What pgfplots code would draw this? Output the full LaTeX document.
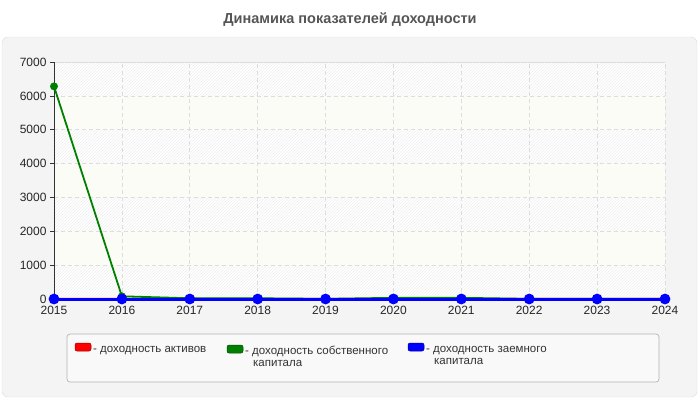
\documentclass[border=0pt]{standalone}
\usepackage{pgfplots}
\pgfplotsset{compat=1.18}
\usepackage{fontspec}
\setmainfont{Liberation Sans}
\usetikzlibrary{patterns}
\definecolor{panel}{HTML}{F4F4F4}
\definecolor{panelline}{HTML}{DDDDDD}
\definecolor{legfill}{HTML}{F9F9F9}
\definecolor{legline}{HTML}{B4B4B4}
\definecolor{band}{HTML}{FCFCF6}
\definecolor{hatch}{HTML}{F0F0F0}
\definecolor{titlec}{HTML}{555555}
\definecolor{serred}{HTML}{FF0000}
\definecolor{sergreen}{HTML}{008000}
\definecolor{serblue}{HTML}{0000FF}

\begin{document}
\begin{tikzpicture}[x=1pt,y=1pt]
\path (0,0) rectangle (700,-400);
\fill[panel,draw=panelline,rounded corners=6pt] (2,-37) rectangle (697,-397);
\node[text=titlec,font=\fontsize{14.5}{16}\selectfont\bfseries] at (350,-20) {Динамика показателей доходности};

% plot area background: hatched and plain bands of 1000 each
\fill[white] (54,-299) rectangle (665,-62);
\foreach \k in {0,2,4,6}{
  \fill[pattern=north east lines, pattern color=hatch] (54,-299+\k*33.857) rectangle (665,-299+\k*33.857+33.857);
}
\foreach \k in {1,3,5}{
  \fill[band] (54,-299+\k*33.857) rectangle (665,-299+\k*33.857+33.857);
}
\draw[panelline, line width=0.8pt] (54,-62) -- (665,-62);

\begin{axis}[
    at={(54pt,-299pt)}, anchor=south west,
    width=611pt, height=237pt, scale only axis,
    xmin=2015, xmax=2024, ymin=0, ymax=7000,
    xtick={2015,...,2024}, ytick={0,1000,...,7000},
    axis x line*=bottom, axis y line*=left,
    axis line style={draw=black!80, line width=0.8pt, -},
    tick style={draw=black!80, line width=0.6pt},
    tick align=outside, major tick length=4pt,
    grid=major,
    major grid style={draw=panelline, dash pattern=on 4pt off 3pt, line width=0.7pt},
    ticklabel style={font=\fontsize{12}{14}\selectfont, text=black!85},
    /pgf/number format/1000 sep={},
    /pgf/number format/assume math mode=true,
    clip=false,
]
\addplot[serred, line width=2pt, mark=*, mark size=3pt] coordinates {
(2015,2)(2016,3)(2017,1)(2018,2)(2019,1)(2020,2)(2021,3)(2022,1)(2023,1)(2024,1)
};
\addplot[sergreen, line width=1.8pt, mark=*, mark size=3pt] coordinates {
(2015,6280)(2016,80)(2017,22)(2018,22)(2019,5)(2020,35)(2021,35)(2022,5)(2023,5)(2024,5)
};
\addplot[serblue, line width=3pt, mark=*, mark size=3.8pt] coordinates {
(2015,0)(2016,0)(2017,0)(2018,0)(2019,0)(2020,0)(2021,0)(2022,0)(2023,0)(2024,0)
};
\end{axis}

% legend
\fill[legfill,draw=legline,rounded corners=3pt,line width=0.7pt] (67,-334) rectangle (659,-382);
\begin{scope}[font=\fontsize{11.5}{13}\selectfont, text=black!80]
  \filldraw[fill=serred,draw=serred!60!black,rounded corners=2pt,line width=0.5pt] (75,-343) rectangle (91,-351);
  \node[anchor=base west,inner sep=0pt] at (93,-352) {- доходность активов};
  \filldraw[fill=sergreen,draw=sergreen!60!black,rounded corners=2pt,line width=0.5pt] (227,-345) rectangle (243,-353);
  \node[anchor=base west,inner sep=0pt] at (245,-354) {- доходность собственного};
  \node[anchor=base west,inner sep=0pt] at (253,-366) {капитала};
  \filldraw[fill=serblue,draw=serblue!60!black,rounded corners=2pt,line width=0.5pt] (408,-343) rectangle (424,-351);
  \node[anchor=base west,inner sep=0pt] at (426,-352) {- доходность заемного};
  \node[anchor=base west,inner sep=0pt] at (434,-364) {капитала};
\end{scope}
\end{tikzpicture}
\end{document}
